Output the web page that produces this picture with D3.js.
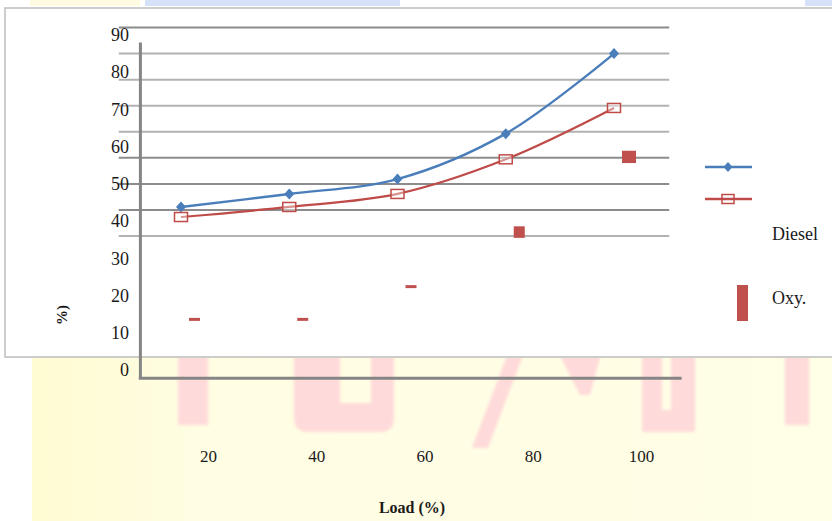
<!DOCTYPE html>
<html>
<head>
<meta charset="utf-8">
<script src="https://cdn.jsdelivr.net/npm/d3@7"></script>
<style>
    body { margin: 0; background: #ffffff; }
    text { font-family: "Liberation Serif", serif; }
</style>
</head>
<body>
<div id="chart"></div>
<script>
// data
const loads = [20, 40, 60, 80, 100];
const diesel = [43.8, 47.3, 51.3, 63.5, 85.0];
const oxy = [41.1, 43.8, 47.3, 56.6, 70.4];
const oxyBarTop = [14.0, 14.0, 22.8, 38.6, 58.9];
const oxyBarBottom = [13.2, 13.2, 22.0, 35.5, 55.6];
const yTicks = [0, 10, 20, 30, 40, 50, 60, 70, 80, 90];
const gridValues = [36, 43, 50, 57, 64, 71, 78, 85, 92];
const seriesNames = ["Diesel", "Oxy."];

const width = 832;
const height = 521;
const svg = d3.select("#chart")
    .append("svg")
    .attr("width", width)
    .attr("height", height)
    .attr("viewBox", [0, 0, width, height]);

const blue = "#4a7ebb";
const red = "#be4b48";

//scales
const xScale = d3.scaleLinear()
    .domain([20, 100])
    .range([181, 614]);
const yScale = d3.scaleLinear()
    .domain([0, 90])
    .range([370, 35]);

//background bits
const defs = svg.append("defs");
const grad = defs.append("linearGradient").attr("id", "yel");
grad.append("stop").attr("offset", "0").attr("stop-color", "#fffbd2");
grad.append("stop").attr("offset", "0.2").attr("stop-color", "#fffde2");
grad.append("stop").attr("offset", "1").attr("stop-color", "#fffee6");
defs.append("filter").attr("id", "soft")
    .append("feGaussianBlur").attr("stdDeviation", 1.5);
defs.append("clipPath").attr("id", "lowClip")
    .append("rect").attr("x", 0).attr("y", 358).attr("width", width).attr("height", 200);

svg.append("rect")
    .attr("x", 32).attr("y", 350)
    .attr("width", width - 32).attr("height", height - 350)
    .attr("fill", "url(#yel)");

// top strip
svg.append("rect").attr("x", 30).attr("y", 0).attr("width", 110).attr("height", 6).attr("fill", "#fffbe0");
svg.append("rect").attr("x", 145).attr("y", 0).attr("width", 255).attr("height", 6).attr("fill", "#d6e2fa");
svg.append("rect").attr("x", 805).attr("y", 0).attr("width", 27).attr("height", 6).attr("fill", "#d6e2fa");

// white frame
svg.append("rect")
    .attr("x", 5).attr("y", 8)
    .attr("width", 840).attr("height", 349)
    .attr("fill", "white")
    .attr("stroke", "#bdbdbd")
    .attr("stroke-width", 1.5);

// pink watermark showing below the frame
const pink = svg.append("g")
    .attr("clip-path", "url(#lowClip)")
    .append("g")
    .attr("fill", "#ffdada")
    .attr("filter", "url(#soft)");
pink.append("rect").attr("x", 178).attr("y", 350).attr("width", 30).attr("height", 75);
pink.append("path").attr("d", "M294,350 H340 V403 H371 V350 H394 V418 Q394,432 380,432 H310 Q294,432 294,418 Z");
pink.append("path").attr("d", "M509,350 H525 L488,448 H472 Z");
pink.append("path").attr("d", "M557,350 H602 L590,395 H580 Z");
pink.append("path").attr("d", "M642,350 H662 V410 H671 V350 H695 V432 H642 Z");
pink.append("rect").attr("x", 785).attr("y", 350).attr("width", 24).attr("height", 75);

//gridlines
svg.append("g")
    .selectAll("line")
    .data(gridValues)
    .join("line")
    .attr("x1", xScale(8.5))
    .attr("x2", xScale(110.2))
    .attr("y1", d => yScale(d))
    .attr("y2", d => yScale(d))
    .attr("stroke", (d, i) => [1, 2, 3, 8].includes(i) ? "#8c8c8c" : "#b2b2b2")
    .attr("stroke-width", 2);

//axis lines
svg.append("line")
    .attr("x1", xScale(12.5)).attr("x2", xScale(12.5))
    .attr("y1", yScale(88)).attr("y2", yScale(-2.2))
    .attr("stroke", "#858585").attr("stroke-width", 3);
svg.append("line")
    .attr("x1", xScale(12.2)).attr("x2", xScale(112.5))
    .attr("y1", yScale(-2.2)).attr("y2", yScale(-2.2))
    .attr("stroke", "#858585").attr("stroke-width", 3);

//Y labels
const yAxis = svg.append("g")
    .attr("transform", "translate(131,0)")
    .call(d3.axisLeft(yScale).tickValues(yTicks).tickSize(0).tickPadding(2));
yAxis.select(".domain").remove();
yAxis.selectAll("text")
    .attr("font-family", "Liberation Serif")
    .attr("font-size", "18px")
    .attr("fill", "#1a1a1a");

//X labels
const xAxis = svg.append("g")
    .attr("transform", "translate(27,450)")
    .call(d3.axisBottom(xScale).tickValues(loads).tickSize(0).tickPadding(0));
xAxis.select(".domain").remove();
xAxis.selectAll("text")
    .attr("font-family", "Liberation Serif")
    .attr("font-size", "17px")
    .attr("fill", "#1a1a1a");

svg.append("text")
    .attr("x", 412)
    .attr("y", 513)
    .attr("text-anchor", "middle")
    .attr("font-size", "16px")
    .attr("font-weight", "bold")
    .attr("fill", "#1a1a1a")
    .text("Load (%)");

svg.append("text")
    .attr("transform", "translate(67,315) rotate(-90)")
    .attr("text-anchor", "middle")
    .attr("font-size", "15px")
    .attr("font-weight", "bold")
    .attr("fill", "#1a1a1a")
    .text("%)");

//Oxy bars
svg.append("g")
    .selectAll("rect")
    .data(loads)
    .join("rect")
    .attr("x", d => xScale(d) + 8)
    .attr("width", (d, i) => i === 4 ? 14 : 11)
    .attr("y", (d, i) => yScale(oxyBarTop[i]))
    .attr("height", (d, i) => yScale(oxyBarBottom[i]) - yScale(oxyBarTop[i]))
    .attr("fill", "#c0504d");

//lines
const makeLine = d3.line()
    .curve(d3.curveCatmullRom)
    .x((d, i) => xScale(loads[i]))
    .y(d => yScale(d));

svg.append("path")
    .attr("d", makeLine(oxy))
    .attr("fill", "none")
    .attr("stroke", red)
    .attr("stroke-width", 2.2);
svg.append("path")
    .attr("d", makeLine(diesel))
    .attr("fill", "none")
    .attr("stroke", blue)
    .attr("stroke-width", 2.4);

svg.append("g")
    .selectAll("path")
    .data(diesel)
    .join("path")
    .attr("transform", (d, i) => `translate(${xScale(loads[i])},${yScale(d)})`)
    .attr("d", "M0,-5.5 L5,0 L0,5.5 L-5,0 Z")
    .attr("fill", blue);

svg.append("g")
    .selectAll("rect")
    .data(oxy)
    .join("rect")
    .attr("x", (d, i) => xScale(loads[i]) - 6.5)
    .attr("y", d => yScale(d) - 4.5)
    .attr("width", 13)
    .attr("height", 9)
    .attr("fill", "white")
    .attr("fill-opacity", 0.4)
    .attr("stroke", red)
    .attr("stroke-width", 1.5);

//legend
svg.append("line")
    .attr("x1", 705).attr("x2", 752).attr("y1", 167).attr("y2", 167)
    .attr("stroke", blue).attr("stroke-width", 2.5);
svg.append("path")
    .attr("transform", "translate(728,167)")
    .attr("d", "M0,-5 L4.5,0 L0,5 L-4.5,0 Z")
    .attr("fill", blue);
svg.append("line")
    .attr("x1", 705).attr("x2", 752).attr("y1", 199).attr("y2", 199)
    .attr("stroke", red).attr("stroke-width", 2.5);
svg.append("rect")
    .attr("x", 722).attr("y", 194.5).attr("width", 12).attr("height", 9)
    .attr("fill", "none").attr("stroke", red).attr("stroke-width", 1.5);
svg.append("rect")
    .attr("x", 737).attr("y", 285).attr("width", 11).attr("height", 36)
    .attr("fill", "#c0504d");

svg.selectAll(".legendText")
    .data(seriesNames)
    .join("text")
    .attr("class", "legendText")
    .attr("x", 772)
    .attr("y", (d, i) => i === 0 ? 240 : 304)
    .attr("font-size", "18px")
    .attr("fill", "#1a1a1a")
    .text(d => d);
</script>
</body>
</html>
